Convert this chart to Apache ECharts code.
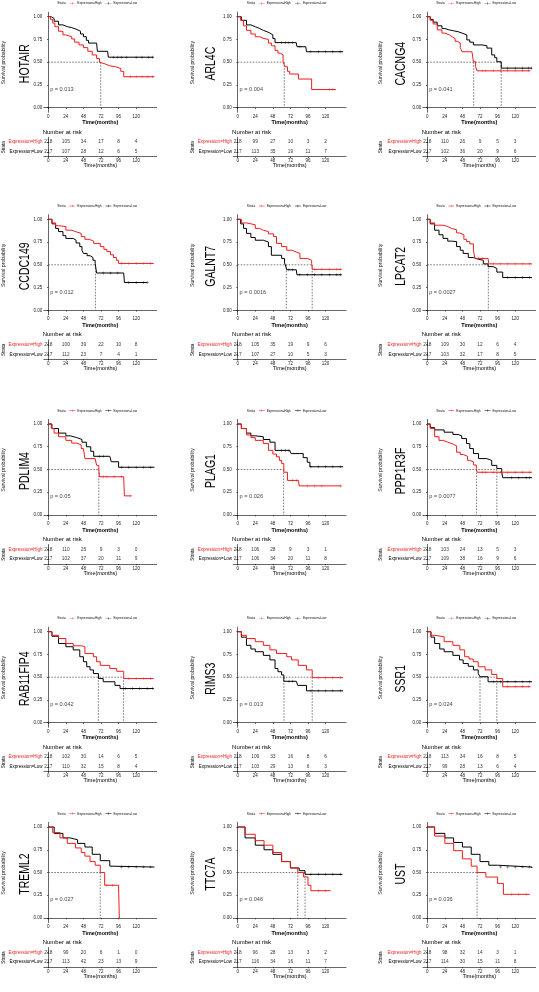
<!DOCTYPE html>
<html><head><meta charset="utf-8">
<script src="https://cdn.jsdelivr.net/npm/echarts@6/dist/echarts.min.js"></script>
<style>html,body{margin:0;padding:0;background:#fff}#c{width:539px;height:992px}</style>
</head><body><div id="c"></div>
<script>
// ---------------- DATA ----------------
const timeTicks = [0, 24, 48, 72, 96, 120];
const survTicks = [0, 0.25, 0.5, 0.75, 1];
const strata = ['Expression=High', 'Expression=Low'];
const genes = ['HOTAIR','ARL4C','CACNG4','CCDC149','GALNT7','LPCAT2','PDLIM4','PLAG1','PPP1R3F','RAB11FIP4','RIMS3','SSR1','TREML2','TTC7A','UST'];
const pValues = ['0.013','0.004','0.041','0.012','0.0016','0.0027','0.05','0.026','0.0077','0.042','0.013','0.024','0.027','0.046','0.036'];

// Kaplan-Meier curves [time, survival]
const HOTAIR_high = [[0,1],[3,0.97],[6,0.93],[9,0.89],[14,0.84],[20,0.8],[24,0.78],[32,0.755],[36,0.72],[42,0.69],[48,0.66],[54,0.62],[60,0.58],[66,0.54],[70,0.5],[72,0.48],[78,0.46],[84,0.45],[92,0.43],[99,0.4],[103,0.34],[145,0.34]];
const HOTAIR_low = [[0,1],[4,0.98],[8,0.95],[14,0.91],[20,0.89],[26,0.88],[32,0.86],[39,0.84],[44,0.81],[48,0.78],[52,0.74],[55,0.71],[66,0.71],[67,0.62],[81,0.62],[82,0.555],[144,0.555]];
const ARL4C_high = [[0,1],[4,0.96],[8,0.9],[12,0.85],[18,0.81],[24,0.78],[30,0.76],[36,0.75],[42,0.71],[46,0.68],[51,0.63],[55,0.6],[58,0.58],[62,0.505],[64.5,0.45],[68,0.4],[71,0.37],[83,0.315],[101,0.2],[134,0.2]];
const ARL4C_low = [[0,1],[5,0.96],[12,0.91],[18,0.89],[24,0.87],[30,0.85],[35,0.835],[40,0.82],[44,0.8],[48,0.76],[51,0.715],[80,0.715],[81,0.67],[93,0.67],[94,0.615],[144,0.615]];
const CACNG4_high = [[0,1],[4,0.96],[8,0.92],[13.6,0.855],[20,0.82],[24,0.8],[30,0.78],[34,0.76],[38,0.73],[41,0.71],[45,0.66],[47.5,0.615],[61,0.6],[63,0.505],[66,0.45],[68,0.405],[141,0.405]];
const CACNG4_low = [[0,1],[4,0.97],[8,0.94],[13.6,0.9],[20,0.87],[24,0.855],[30,0.845],[36,0.835],[42,0.82],[47.5,0.8],[54,0.745],[58,0.72],[63,0.69],[75,0.68],[81.5,0.655],[88,0.58],[92,0.55],[95,0.505],[101,0.435],[143,0.435]];
const CCDC149_high = [[0,1],[5,0.96],[10,0.93],[14,0.92],[24,0.88],[32,0.86],[39,0.845],[45,0.81],[50,0.78],[56,0.76],[62,0.735],[71,0.7],[76,0.67],[80,0.645],[85,0.61],[89,0.58],[93,0.55],[96,0.515],[144,0.515]];
const CCDC149_low = [[0,1],[5,0.95],[10,0.9],[14,0.865],[20,0.82],[24,0.79],[34,0.77],[38,0.74],[43,0.7],[46,0.66],[48,0.625],[53,0.6],[57,0.58],[61,0.55],[64,0.515],[66,0.41],[103,0.41],[104,0.305],[135,0.305]];
const GALNT7_high = [[0,1],[5,0.96],[12,0.94],[24,0.9],[30,0.88],[35,0.865],[42,0.84],[49,0.81],[53,0.735],[60,0.7],[67,0.66],[74,0.64],[80,0.625],[85,0.57],[95,0.55],[101,0.515],[102,0.45],[142,0.45]];
const GALNT7_low = [[0,1],[4,0.95],[8,0.9],[12,0.845],[18,0.8],[24,0.77],[35,0.75],[42,0.7],[46,0.605],[60,0.57],[64,0.52],[66,0.475],[67,0.445],[80,0.445],[81,0.39],[142,0.39]];
const LPCAT2_high = [[0,1],[4,0.96],[10,0.935],[21.5,0.92],[28,0.9],[33,0.885],[40,0.85],[44,0.83],[50,0.78],[53.6,0.755],[58,0.73],[63,0.66],[65,0.57],[83,0.57],[84,0.51],[143,0.51]];
const LPCAT2_low = [[0,1],[4,0.95],[10,0.88],[16,0.83],[21.5,0.79],[28,0.76],[33,0.755],[40,0.7],[45,0.66],[49,0.625],[56,0.58],[63,0.56],[70,0.55],[76.5,0.51],[83,0.48],[90,0.46],[95,0.42],[103,0.36],[143,0.36]];
const PDLIM4_high = [[0,1],[4,0.95],[8,0.9],[14,0.86],[24,0.82],[32,0.79],[39,0.77],[45,0.73],[48,0.71],[50,0.62],[64,0.62],[66,0.545],[69,0.49],[70,0.42],[103,0.42],[104,0.21],[113,0.21]];
const PDLIM4_low = [[0,1],[5,0.95],[14,0.9],[24,0.87],[30,0.85],[39,0.83],[46,0.8],[52,0.75],[58,0.7],[62,0.645],[84,0.645],[86,0.585],[96,0.525],[145,0.525]];
const PLAG1_high = [[0,1],[5,0.95],[12,0.88],[18,0.85],[24,0.82],[35,0.785],[42,0.71],[48,0.67],[53,0.64],[57,0.6],[60,0.565],[63,0.47],[68,0.38],[83,0.38],[84,0.32],[142,0.32]];
const PLAG1_low = [[0,1],[5,0.95],[12,0.9],[18,0.87],[24,0.86],[35,0.83],[44,0.8],[51,0.71],[71,0.71],[73,0.675],[84,0.675],[89.5,0.63],[95,0.58],[98.6,0.53],[144,0.53]];
const PPP1R3F_high = [[0,1],[4,0.95],[10,0.86],[16,0.82],[21.5,0.8],[28,0.78],[35,0.76],[40,0.69],[45,0.665],[49,0.645],[55,0.6],[58,0.585],[63,0.55],[67,0.51],[68,0.47],[143,0.47]];
const PPP1R3F_low = [[0,1],[4,0.96],[10,0.935],[23,0.91],[35,0.885],[42,0.87],[47,0.84],[53.6,0.785],[58,0.73],[63,0.675],[70,0.62],[81,0.6],[88,0.545],[95,0.51],[101.7,0.47],[103,0.41],[143,0.41]];
const RAB11FIP4_high = [[0,1],[5,0.96],[14,0.925],[24,0.87],[34,0.845],[45.6,0.835],[50,0.76],[61.6,0.725],[66,0.67],[71,0.63],[84,0.595],[93.5,0.565],[103,0.485],[144,0.485]];
const RAB11FIP4_low = [[0,1],[5,0.95],[14,0.87],[24,0.835],[34,0.8],[43,0.725],[48,0.67],[52.5,0.615],[57,0.58],[61.6,0.54],[68.5,0.485],[75,0.45],[91,0.41],[98,0.375],[144,0.375]];
const RIMS3_high = [[0,1],[5,0.96],[12,0.925],[24,0.89],[35,0.85],[44,0.8],[53,0.76],[67,0.725],[73.6,0.69],[82.7,0.63],[94,0.58],[101.8,0.495],[144,0.495]];
const RIMS3_low = [[0,1],[5,0.94],[12,0.85],[18,0.81],[24,0.78],[35,0.74],[44,0.69],[51,0.595],[55,0.56],[60,0.525],[63,0.455],[80,0.455],[82,0.41],[94,0.35],[144,0.35]];
const SSR1_high = [[0,1],[5,0.96],[10,0.945],[23,0.89],[35,0.85],[44.4,0.8],[51,0.725],[57,0.7],[62.7,0.67],[69.6,0.615],[79,0.58],[88,0.53],[95,0.485],[103,0.395],[141,0.395]];
const SSR1_low = [[0,1],[5,0.94],[10,0.87],[17,0.81],[23,0.78],[35,0.74],[44,0.69],[49,0.65],[56,0.62],[63,0.58],[69.6,0.54],[72,0.505],[83,0.45],[143,0.45]];
const TREML2_high = [[0,1],[6,0.94],[16,0.88],[26,0.82],[37,0.77],[45,0.72],[50,0.68],[57,0.62],[64,0.58],[71,0.5],[77,0.36],[96,0.36],[97,0],[98,0]];
const TREML2_low = [[0,1],[8,0.93],[20,0.88],[30,0.86],[40,0.82],[50,0.78],[60,0.7],[71,0.63],[84,0.57],[86,0.56],[145,0.56]];
const TTC7A_high = [[0,1],[10,0.92],[24,0.85],[36,0.8],[48,0.72],[60,0.62],[72,0.55],[82,0.5],[90,0.45],[96,0.36],[100,0.3],[127,0.3]];
const TTC7A_low = [[0,1],[10,0.88],[24,0.8],[36,0.75],[48,0.7],[60,0.62],[72,0.55],[84,0.52],[92,0.48],[143,0.475]];
const UST_high = [[0,1],[10,0.9],[24,0.82],[36,0.74],[48,0.65],[60,0.57],[68,0.5],[80,0.45],[96,0.38],[104,0.26],[140,0.26]];
const UST_low = [[0,1],[10,0.93],[24,0.88],[36,0.83],[48,0.78],[60,0.7],[72,0.62],[84,0.58],[96,0.56],[143,0.55]];

// censoring times
const HOTAIR_censorHigh = [112,120,128,136,142];   const HOTAIR_censorLow = [89,95,100,107,120,128,137,142];
const ARL4C_censorHigh = [125,130];                const ARL4C_censorLow = [60,65,70,75,85,100,110,120,130,140];
const CACNG4_censorHigh = [75,80,90,100,110,120,130,138]; const CACNG4_censorLow = [110,120,130,138,142];
const CCDC149_censorHigh = [100,110,120,130,140];  const CCDC149_censorLow = [75,85,95,110,120,130,135];
const GALNT7_censorHigh = [105,115,125,135,140];   const GALNT7_censorLow = [70,75,85,95,105,115,125,135,140];
const LPCAT2_censorHigh = [70,75,90,100,110,120,130,140]; const LPCAT2_censorLow = [110,120,130,140];
const PDLIM4_censorHigh = [75,80,90,100,113];      const PDLIM4_censorLow = [70,75,100,110,120,130,140];
const PLAG1_censorHigh = [75,80,95,105,115,140];   const PLAG1_censorLow = [60,65,70,100,110,120,130,140];
const PPP1R3F_censorHigh = [75,80,90,100,110,120,130,140]; const PPP1R3F_censorLow = [115,125,135,140];
const RAB11FIP4_censorHigh = [110,120,130,140];    const RAB11FIP4_censorLow = [105,115,125,135,142];
const RIMS3_censorHigh = [110,120,130,140];        const RIMS3_censorLow = [70,75,100,110,120,130,140];
const SSR1_censorHigh = [110,120,130,138];         const SSR1_censorLow = [90,100,110,120,130,140];
const TREML2_censorHigh = [80,88];                 const TREML2_censorLow = [100,110,120,130,140];
const TTC7A_censorHigh = [110,120];                const TTC7A_censorLow = [100,110,120,130,140];
const UST_censorHigh = [115,125,135];              const UST_censorLow = [100,110,120,130,140];

// median survival times
const HOTAIR_median = [71.6];   const ARL4C_median = [63.6];   const CACNG4_median = [63.4, 101];
const CCDC149_median = [64.4];  const GALNT7_median = [66.4, 101.8]; const LPCAT2_median = [83.4];
const PDLIM4_median = [69];     const PLAG1_median = [62.7];   const PPP1R3F_median = [67.3, 95];
const RAB11FIP4_median = [68.4, 102.7]; const RIMS3_median = [63.2, 101.8]; const SSR1_median = [72, 95];
const TREML2_median = [71];     const TTC7A_median = [82, 92]; const UST_median = [68];

// number at risk
const HOTAIR_riskHigh = [218,105,34,17,8,4];   const HOTAIR_riskLow = [217,107,28,12,6,5];
const ARL4C_riskHigh = [218,99,27,10,3,2];     const ARL4C_riskLow = [217,113,35,19,11,7];
const CACNG4_riskHigh = [218,110,26,9,5,3];    const CACNG4_riskLow = [217,102,36,20,9,6];
const CCDC149_riskHigh = [218,100,39,22,10,8]; const CCDC149_riskLow = [217,112,23,7,4,1];
const GALNT7_riskHigh = [218,105,35,19,9,6];   const GALNT7_riskLow = [217,107,27,10,5,3];
const LPCAT2_riskHigh = [218,109,30,12,6,4];   const LPCAT2_riskLow = [217,103,32,17,8,5];
const PDLIM4_riskHigh = [218,110,25,9,3,0];    const PDLIM4_riskLow = [217,102,37,20,11,9];
const PLAG1_riskHigh = [218,106,28,9,3,1];     const PLAG1_riskLow = [217,106,34,20,11,8];
const PPP1R3F_riskHigh = [218,103,24,13,5,3];  const PPP1R3F_riskLow = [217,109,38,16,9,6];
const RAB11FIP4_riskHigh = [218,102,30,14,6,5]; const RAB11FIP4_riskLow = [217,110,32,15,8,4];
const RIMS3_riskHigh = [218,109,33,16,8,6];    const RIMS3_riskLow = [217,103,29,13,6,3];
const SSR1_riskHigh = [218,113,34,16,8,5];     const SSR1_riskLow = [217,99,28,13,6,4];
const TREML2_riskHigh = [218,99,20,6,1,0];     const TREML2_riskLow = [217,113,42,23,13,9];
const TTC7A_riskHigh = [218,96,28,13,3,2];     const TTC7A_riskLow = [217,116,34,16,11,7];
const UST_riskHigh = [218,98,32,14,3,1];       const UST_riskLow = [217,114,30,15,11,8];

const curveTable = {
  HOTAIR:[HOTAIR_high,HOTAIR_low,HOTAIR_censorHigh,HOTAIR_censorLow,HOTAIR_median,HOTAIR_riskHigh,HOTAIR_riskLow],
  ARL4C:[ARL4C_high,ARL4C_low,ARL4C_censorHigh,ARL4C_censorLow,ARL4C_median,ARL4C_riskHigh,ARL4C_riskLow],
  CACNG4:[CACNG4_high,CACNG4_low,CACNG4_censorHigh,CACNG4_censorLow,CACNG4_median,CACNG4_riskHigh,CACNG4_riskLow],
  CCDC149:[CCDC149_high,CCDC149_low,CCDC149_censorHigh,CCDC149_censorLow,CCDC149_median,CCDC149_riskHigh,CCDC149_riskLow],
  GALNT7:[GALNT7_high,GALNT7_low,GALNT7_censorHigh,GALNT7_censorLow,GALNT7_median,GALNT7_riskHigh,GALNT7_riskLow],
  LPCAT2:[LPCAT2_high,LPCAT2_low,LPCAT2_censorHigh,LPCAT2_censorLow,LPCAT2_median,LPCAT2_riskHigh,LPCAT2_riskLow],
  PDLIM4:[PDLIM4_high,PDLIM4_low,PDLIM4_censorHigh,PDLIM4_censorLow,PDLIM4_median,PDLIM4_riskHigh,PDLIM4_riskLow],
  PLAG1:[PLAG1_high,PLAG1_low,PLAG1_censorHigh,PLAG1_censorLow,PLAG1_median,PLAG1_riskHigh,PLAG1_riskLow],
  PPP1R3F:[PPP1R3F_high,PPP1R3F_low,PPP1R3F_censorHigh,PPP1R3F_censorLow,PPP1R3F_median,PPP1R3F_riskHigh,PPP1R3F_riskLow],
  RAB11FIP4:[RAB11FIP4_high,RAB11FIP4_low,RAB11FIP4_censorHigh,RAB11FIP4_censorLow,RAB11FIP4_median,RAB11FIP4_riskHigh,RAB11FIP4_riskLow],
  RIMS3:[RIMS3_high,RIMS3_low,RIMS3_censorHigh,RIMS3_censorLow,RIMS3_median,RIMS3_riskHigh,RIMS3_riskLow],
  SSR1:[SSR1_high,SSR1_low,SSR1_censorHigh,SSR1_censorLow,SSR1_median,SSR1_riskHigh,SSR1_riskLow],
  TREML2:[TREML2_high,TREML2_low,TREML2_censorHigh,TREML2_censorLow,TREML2_median,TREML2_riskHigh,TREML2_riskLow],
  TTC7A:[TTC7A_high,TTC7A_low,TTC7A_censorHigh,TTC7A_censorLow,TTC7A_median,TTC7A_riskHigh,TTC7A_riskLow],
  UST:[UST_high,UST_low,UST_censorHigh,UST_censorLow,UST_median,UST_riskHigh,UST_riskLow]
};

// ---------------- LAYOUT / STYLE ----------------
const RED = '#F21D1D', BLACK = '#000000', TXT = '#222222';
const FONT = '"Liberation Sans", Arial, Helvetica, sans-serif';
const colX = [48.3, 237.7, 427.3];        // pixel of month 0
const rowY = [16.7, 219.3, 424, 631.7, 827]; // pixel of survival 1.00
const colSP = [3.5, 192.5, 381];          // "Survival probability" x
const colGene = [25, 210.5, 400.5];       // gene name x
const S = 0.732, U = 91;                  // px per month, px per unit survival
const XMIN = -6, XMAX = 148;
const PV_POS = [2.5, 0.2];
const plusIcon = 'path://M0,4.4H20V5.6H0ZM9.3,1.2H10.7V8.8H9.3Z';
const plusSym = 'path://M4.3,0H5.7V4.3H10V5.7H5.7V10H4.3V5.7H0V4.3H4.3Z';

function survAt(curve, t) {
  let s = 1;
  for (const p of curve) { if (p[0] <= t) s = p[1]; else break; }
  return s;
}

const grid = [], xAxis = [], yAxis = [], series = [], legend = [], graphic = [];
const axLine = { show: true, lineStyle: { color: '#000', width: 0.6 } };
const axTick = (vals) => ({ show: true, length: 1.3, customValues: vals, lineStyle: { color: '#000', width: 0.6 } });

genes.forEach((g, i) => {
  const col = i % 3, row = Math.floor(i / 3);
  const ox = colX[col], oy = rowY[row];
  const [hi, lo, cH, cL, med, rH, rL] = curveTable[g];
  const left = ox + XMIN * S, width = (XMAX - XMIN) * S;
  const kmIdx = grid.length;
  grid.push({ left, top: oy - 0.05 * U, width, height: 1.1 * U });
  const tbIdx = grid.length;
  grid.push({ left, top: oy + U + 29.5, width, height: 19.5 });

  xAxis.push({ gridIndex: kmIdx, type: 'value', min: XMIN, max: XMAX, axisLine: axLine, axisTick: axTick(timeTicks),
    splitLine: { show: false }, axisLabel: { customValues: timeTicks, fontSize: 4.5, margin: 1.8, color: TXT, fontFamily: FONT } });
  yAxis.push({ gridIndex: kmIdx, type: 'value', min: -0.05, max: 1.05, axisLine: axLine, axisTick: axTick(survTicks),
    splitLine: { show: false }, axisLabel: { customValues: survTicks, fontSize: 4.5, margin: 1.6, color: TXT, fontFamily: FONT, formatter: v => v.toFixed(2) } });
  xAxis.push({ gridIndex: tbIdx, type: 'value', min: XMIN, max: XMAX, axisLine: axLine, axisTick: axTick(timeTicks),
    splitLine: { show: false }, axisLabel: { customValues: timeTicks, fontSize: 4.5, margin: 1.8, color: TXT, fontFamily: FONT } });
  yAxis.push({ gridIndex: tbIdx, type: 'category', data: ['Expression=Low', 'Expression=High'], axisLine: axLine,
    axisTick: { show: true, length: 1.3, alignWithLabel: true, lineStyle: { color: '#000', width: 0.6 } },
    axisLabel: { fontSize: 4.5, margin: 1.3, fontFamily: FONT, color: v => (v === 'Expression=High' ? RED : BLACK) } });

  const base = { xAxisIndex: kmIdx, yAxisIndex: kmIdx, animation: false, silent: true };
  // median dashed lines
  if (med.length) {
    const mMax = Math.max(...med);
    series.push(Object.assign({ type: 'line', data: [[0, 0.5], [mMax, 0.5]], symbol: 'none',
      lineStyle: { color: '#444', width: 0.7, type: [1.6, 1.4] }, z: 1 }, base));
    med.forEach(m => series.push(Object.assign({ type: 'line', data: [[m, 0.5], [m, 0]], symbol: 'none',
      lineStyle: { color: '#444', width: 0.7, type: [1.6, 1.4] }, z: 1 }, base)));
  }
  // curves
  series.push(Object.assign({ type: 'line', name: strata[1], step: 'end', data: lo, symbol: 'none', color: BLACK,
    lineStyle: { color: BLACK, width: 1 }, z: 3 }, base));
  series.push(Object.assign({ type: 'line', name: strata[0], step: 'end', data: hi, symbol: 'none', color: RED,
    lineStyle: { color: RED, width: 1 }, z: 4 }, base));
  // censor marks
  series.push(Object.assign({ type: 'scatter', data: cL.map(t => [t, survAt(lo, t)]), symbol: plusSym, symbolSize: 3,
    itemStyle: { color: BLACK }, z: 5 }, base));
  series.push(Object.assign({ type: 'scatter', data: cH.map(t => [t, survAt(hi, t)]), symbol: plusSym, symbolSize: 3,
    itemStyle: { color: RED }, z: 6 }, base));
  // p value
  series.push(Object.assign({ type: 'scatter', data: [PV_POS], symbolSize: 0,
    label: { show: true, position: 'inside', align: 'left', formatter: 'p = ' + pValues[i], fontSize: 5.6, color: '#111', fontFamily: FONT } }, base));
  // risk table
  const tb = { xAxisIndex: tbIdx, yAxisIndex: tbIdx, animation: false, silent: true, type: 'scatter', symbolSize: 0 };
  series.push(Object.assign({ data: timeTicks.map((t, j) => [t, 'Expression=High', rH[j]]),
    label: { show: true, position: 'inside', formatter: p => String(p.data[2]), fontSize: 4.8, color: '#000', fontFamily: FONT } }, tb));
  series.push(Object.assign({ data: timeTicks.map((t, j) => [t, 'Expression=Low', rL[j]]),
    label: { show: true, position: 'inside', formatter: p => String(p.data[2]), fontSize: 4.8, color: '#000', fontFamily: FONT } }, tb));

  // legend
  legend.push({ data: strata, left: ox + 21, top: oy - 14.8, orient: 'horizontal', padding: 0, itemWidth: 6, itemHeight: 3,
    itemGap: 4, icon: plusIcon, selectedMode: false, textStyle: { fontSize: 3.2, color: '#111', fontFamily: FONT, padding: [0, 0, 0, -3] } });

  // texts
  const T = (o) => graphic.push(Object.assign({ type: 'text', silent: true }, o));
  T({ x: ox + 9, y: oy - 13.3, style: { text: 'Strata', fontSize: 3.2, fill: '#111', font: '3.2px ' + FONT, align: 'left', verticalAlign: 'middle' } });
  T({ x: colSP[col], y: oy + 46, rotation: Math.PI / 2, style: { text: 'Survival probability', font: '5.2px ' + FONT, fill: TXT, align: 'center', verticalAlign: 'middle' } });
  T({ x: colGene[col], y: oy + 47, rotation: Math.PI / 2, scaleY: 1.45, style: { text: g, font: '10.5px ' + FONT, fill: '#000', align: 'center', verticalAlign: 'middle' } });
  T({ x: ox + 52, y: oy + U + 15, style: { text: 'Time(months)', font: 'bold 5.5px ' + FONT, fill: '#000', align: 'center', verticalAlign: 'middle' } });
  T({ x: ox - 5.6, y: oy + U + 24.5, style: { text: 'Number at risk', font: '6px ' + FONT, fill: '#000', align: 'left', verticalAlign: 'middle' } });
  T({ x: ox + 52, y: oy + U + 58, style: { text: 'Time(months)', font: '5.5px ' + FONT, fill: '#000', align: 'center', verticalAlign: 'middle' } });
  T({ x: colSP[col], y: oy + U + 39.5, rotation: Math.PI / 2, style: { text: 'Strata', font: '4.6px ' + FONT, fill: '#000', align: 'center', verticalAlign: 'middle' } });
});

const chart = echarts.init(document.getElementById('c'), null, { renderer: 'canvas' });
chart.setOption({ backgroundColor: '#fff', animation: false, grid, xAxis, yAxis, series, legend, graphic });
</script></body></html>
